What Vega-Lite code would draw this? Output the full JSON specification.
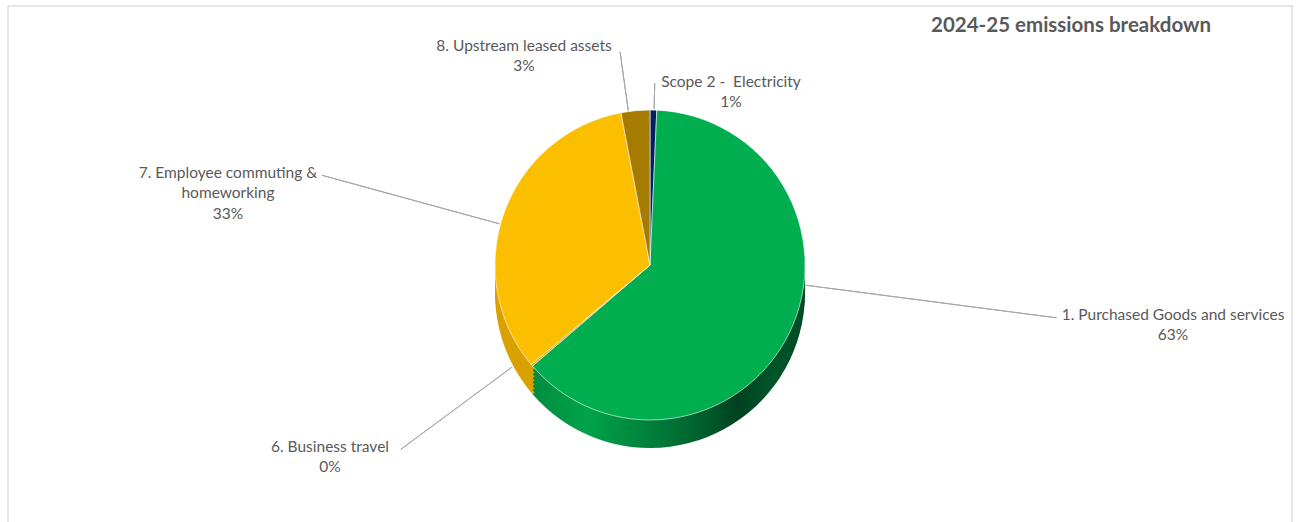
{
  "$schema": "https://vega.github.io/schema/vega-lite/v6.json",
  "width": 1298,
  "height": 522,
  "autosize": {"type": "fit", "contains": "padding"},
  "padding": {"left": 7, "top": 5, "right": 5, "bottom": -3},
  "background": "white",
  "title": {
    "text": "2024-25 emissions breakdown",
    "anchor": "end",
    "frame": "group",
    "dx": -81,
    "offset": -31,
    "font": "Lato",
    "fontSize": 20.5,
    "fontWeight": "bold",
    "color": "#595959"
  },
  "data": {
    "values": [
      {"idx": 1, "cat": "Scope 2", "value": 0.7, "label": "Scope 2 - \u00a0Electricity\n1%"},
      {"idx": 2, "cat": "Purchased", "value": 63.0, "label": "1. Purchased Goods and services\n63%"},
      {"idx": 3, "cat": "Business", "value": 0.2, "label": "6. Business travel\n0%"},
      {"idx": 4, "cat": "Employee", "value": 33.1, "label": "7. Employee commuting &\nhomeworking\n33%"},
      {"idx": 5, "cat": "Upstream", "value": 3.0, "label": "8. Upstream leased assets\n3%"}
    ]
  },
  "encoding": {
    "theta": {"field": "value", "type": "quantitative", "stack": true, "scale": {"domain": [0, 100]}},
    "order": {"field": "idx", "type": "quantitative"}
  },
  "layer": [
    {
      "transform": [{"filter": "datum.idx === 1"}],
      "mark": {"type": "rect", "fill": null, "stroke": "#dedede", "strokeWidth": 1.5},
      "encoding": {}
    },
    {
      "mark": {"type": "arc", "outerRadius": 155, "yOffset": 28},
      "encoding": {"fill": {"condition": [
        {"test": "datum.cat === 'Purchased'", "value": {"gradient": "linear", "x1": 0, "y1": 0, "x2": 1, "y2": 0, "stops": [{"offset": 0, "color": "#008c3e"}, {"offset": 0.2, "color": "#00a34b"}, {"offset": 0.45, "color": "#007d39"}, {"offset": 0.65, "color": "#005a2a"}, {"offset": 0.75, "color": "#00411f"}, {"offset": 0.88, "color": "#00552a"}, {"offset": 1, "color": "#004a25"}]}},
        {"test": "datum.cat === 'Upstream'", "value": "#7d5d00"},
        {"test": "datum.cat === 'Scope 2'", "value": "#001540"}],
        "value": "#d9a100"}}
    },
    {
      "mark": {"type": "arc", "outerRadius": 155, "yOffset": 24},
      "encoding": {"fill": {"condition": [
        {"test": "datum.cat === 'Purchased'", "value": {"gradient": "linear", "x1": 0, "y1": 0, "x2": 1, "y2": 0, "stops": [{"offset": 0, "color": "#008c3e"}, {"offset": 0.2, "color": "#00a34b"}, {"offset": 0.45, "color": "#007d39"}, {"offset": 0.65, "color": "#005a2a"}, {"offset": 0.75, "color": "#00411f"}, {"offset": 0.88, "color": "#00552a"}, {"offset": 1, "color": "#004a25"}]}},
        {"test": "datum.cat === 'Upstream'", "value": "#7d5d00"},
        {"test": "datum.cat === 'Scope 2'", "value": "#001540"}],
        "value": "#d9a100"}}
    },
    {
      "mark": {"type": "arc", "outerRadius": 155, "yOffset": 20},
      "encoding": {"fill": {"condition": [
        {"test": "datum.cat === 'Purchased'", "value": {"gradient": "linear", "x1": 0, "y1": 0, "x2": 1, "y2": 0, "stops": [{"offset": 0, "color": "#008c3e"}, {"offset": 0.2, "color": "#00a34b"}, {"offset": 0.45, "color": "#007d39"}, {"offset": 0.65, "color": "#005a2a"}, {"offset": 0.75, "color": "#00411f"}, {"offset": 0.88, "color": "#00552a"}, {"offset": 1, "color": "#004a25"}]}},
        {"test": "datum.cat === 'Upstream'", "value": "#7d5d00"},
        {"test": "datum.cat === 'Scope 2'", "value": "#001540"}],
        "value": "#d9a100"}}
    },
    {
      "mark": {"type": "arc", "outerRadius": 155, "yOffset": 16},
      "encoding": {"fill": {"condition": [
        {"test": "datum.cat === 'Purchased'", "value": {"gradient": "linear", "x1": 0, "y1": 0, "x2": 1, "y2": 0, "stops": [{"offset": 0, "color": "#008c3e"}, {"offset": 0.2, "color": "#00a34b"}, {"offset": 0.45, "color": "#007d39"}, {"offset": 0.65, "color": "#005a2a"}, {"offset": 0.75, "color": "#00411f"}, {"offset": 0.88, "color": "#00552a"}, {"offset": 1, "color": "#004a25"}]}},
        {"test": "datum.cat === 'Upstream'", "value": "#7d5d00"},
        {"test": "datum.cat === 'Scope 2'", "value": "#001540"}],
        "value": "#d9a100"}}
    },
    {
      "mark": {"type": "arc", "outerRadius": 155, "yOffset": 12},
      "encoding": {"fill": {"condition": [
        {"test": "datum.cat === 'Purchased'", "value": {"gradient": "linear", "x1": 0, "y1": 0, "x2": 1, "y2": 0, "stops": [{"offset": 0, "color": "#008c3e"}, {"offset": 0.2, "color": "#00a34b"}, {"offset": 0.45, "color": "#007d39"}, {"offset": 0.65, "color": "#005a2a"}, {"offset": 0.75, "color": "#00411f"}, {"offset": 0.88, "color": "#00552a"}, {"offset": 1, "color": "#004a25"}]}},
        {"test": "datum.cat === 'Upstream'", "value": "#7d5d00"},
        {"test": "datum.cat === 'Scope 2'", "value": "#001540"}],
        "value": "#d9a100"}}
    },
    {
      "mark": {"type": "arc", "outerRadius": 155, "yOffset": 8},
      "encoding": {"fill": {"condition": [
        {"test": "datum.cat === 'Purchased'", "value": {"gradient": "linear", "x1": 0, "y1": 0, "x2": 1, "y2": 0, "stops": [{"offset": 0, "color": "#008c3e"}, {"offset": 0.2, "color": "#00a34b"}, {"offset": 0.45, "color": "#007d39"}, {"offset": 0.65, "color": "#005a2a"}, {"offset": 0.75, "color": "#00411f"}, {"offset": 0.88, "color": "#00552a"}, {"offset": 1, "color": "#004a25"}]}},
        {"test": "datum.cat === 'Upstream'", "value": "#7d5d00"},
        {"test": "datum.cat === 'Scope 2'", "value": "#001540"}],
        "value": "#d9a100"}}
    },
    {
      "mark": {"type": "arc", "outerRadius": 155, "yOffset": 4},
      "encoding": {"fill": {"condition": [
        {"test": "datum.cat === 'Purchased'", "value": {"gradient": "linear", "x1": 0, "y1": 0, "x2": 1, "y2": 0, "stops": [{"offset": 0, "color": "#008c3e"}, {"offset": 0.2, "color": "#00a34b"}, {"offset": 0.45, "color": "#007d39"}, {"offset": 0.65, "color": "#005a2a"}, {"offset": 0.75, "color": "#00411f"}, {"offset": 0.88, "color": "#00552a"}, {"offset": 1, "color": "#004a25"}]}},
        {"test": "datum.cat === 'Upstream'", "value": "#7d5d00"},
        {"test": "datum.cat === 'Scope 2'", "value": "#001540"}],
        "value": "#d9a100"}}
    },
    {
      "mark": {"type": "arc", "outerRadius": 155, "stroke": "#ffffff", "strokeWidth": 0.7, "strokeOpacity": 0.85},
      "encoding": {
        "color": {
          "field": "cat",
          "type": "nominal",
          "scale": {
            "domain": ["Scope 2", "Purchased", "Business", "Employee", "Upstream"],
            "range": ["#002060", "#00ae50", "#e0a800", "#fcbf00", "#a67c00"]
          },
          "legend": null
        }
      }
    },
    {
      "transform": [{"stack": "value", "groupby": [], "sort": [{"field": "idx", "order": "ascending"}], "as": ["s", "e"]}, {"filter": "datum.cat === 'Scope 2'"}],
      "mark": {"type": "arc", "innerRadius": 156, "outerRadius": 182, "thetaOffset": 0.02618, "theta2Offset": 0.02618, "fill": null, "stroke": "#a6a6a6", "strokeWidth": 1},
      "encoding": {"theta": {"field": "s", "type": "quantitative", "stack": null, "scale": {"domain": [0, 100]}}, "theta2": {"field": "s"}}
    },
    {
      "transform": [{"stack": "value", "groupby": [], "sort": [{"field": "idx", "order": "ascending"}], "as": ["s", "e"]}, {"filter": "datum.cat === 'Purchased'"}],
      "mark": {"type": "arc", "innerRadius": 156, "outerRadius": 410, "thetaOffset": 1.65597, "theta2Offset": 1.65597, "fill": null, "stroke": "#a6a6a6", "strokeWidth": 1},
      "encoding": {"theta": {"field": "s", "type": "quantitative", "stack": null, "scale": {"domain": [0, 100]}}, "theta2": {"field": "s"}}
    },
    {
      "transform": [{"stack": "value", "groupby": [], "sort": [{"field": "idx", "order": "ascending"}], "as": ["s", "e"]}, {"filter": "datum.cat === 'Business'"}],
      "mark": {"type": "arc", "innerRadius": 172, "outerRadius": 310, "thetaOffset": 0.07304, "theta2Offset": 0.07304, "fill": null, "stroke": "#a6a6a6", "strokeWidth": 1},
      "encoding": {"theta": {"field": "s", "type": "quantitative", "stack": null, "scale": {"domain": [0, 100]}}, "theta2": {"field": "s"}}
    },
    {
      "transform": [{"stack": "value", "groupby": [], "sort": [{"field": "idx", "order": "ascending"}], "as": ["s", "e"]}, {"filter": "datum.cat === 'Employee'"}],
      "mark": {"type": "arc", "innerRadius": 156, "outerRadius": 340, "thetaOffset": 0.96446, "theta2Offset": 0.96446, "fill": null, "stroke": "#a6a6a6", "strokeWidth": 1},
      "encoding": {"theta": {"field": "s", "type": "quantitative", "stack": null, "scale": {"domain": [0, 100]}}, "theta2": {"field": "s"}}
    },
    {
      "transform": [{"stack": "value", "groupby": [], "sort": [{"field": "idx", "order": "ascending"}], "as": ["s", "e"]}, {"filter": "datum.cat === 'Upstream'"}],
      "mark": {"type": "arc", "innerRadius": 156, "outerRadius": 215, "thetaOffset": 0.04887, "theta2Offset": 0.04887, "fill": null, "stroke": "#a6a6a6", "strokeWidth": 1},
      "encoding": {"theta": {"field": "s", "type": "quantitative", "stack": null, "scale": {"domain": [0, 100]}}, "theta2": {"field": "s"}}
    },
    {
      "transform": [{"stack": "value", "groupby": [], "sort": [{"field": "idx", "order": "ascending"}], "as": ["s", "e"]}, {"filter": "datum.cat === 'Scope 2'"}],
      "mark": {"type": "text", "radius": 200.35, "thetaOffset": 0.4163},
      "encoding": {"theta": {"field": "s", "type": "quantitative", "stack": null, "scale": {"domain": [0, 100]}}, "text": {"field": "label"}}
    },
    {
      "transform": [{"stack": "value", "groupby": [], "sort": [{"field": "idx", "order": "ascending"}], "as": ["s", "e"]}, {"filter": "datum.cat === 'Purchased'"}],
      "mark": {"type": "text", "radius": 525.36, "thetaOffset": 1.6216},
      "encoding": {"theta": {"field": "s", "type": "quantitative", "stack": null, "scale": {"domain": [0, 100]}}, "text": {"field": "label"}}
    },
    {
      "transform": [{"stack": "value", "groupby": [], "sort": [{"field": "idx", "order": "ascending"}], "as": ["s", "e"]}, {"filter": "datum.cat === 'Business'"}],
      "mark": {"type": "text", "radius": 368.0, "thetaOffset": 0.1936},
      "encoding": {"theta": {"field": "s", "type": "quantitative", "stack": null, "scale": {"domain": [0, 100]}}, "text": {"field": "label"}}
    },
    {
      "transform": [{"stack": "value", "groupby": [], "sort": [{"field": "idx", "order": "ascending"}], "as": ["s", "e"]}, {"filter": "datum.cat === 'Employee'"}],
      "mark": {"type": "text", "radius": 432.0, "thetaOffset": 0.913},
      "encoding": {"theta": {"field": "s", "type": "quantitative", "stack": null, "scale": {"domain": [0, 100]}}, "text": {"field": "label"}}
    },
    {
      "transform": [{"stack": "value", "groupby": [], "sort": [{"field": "idx", "order": "ascending"}], "as": ["s", "e"]}, {"filter": "datum.cat === 'Upstream'"}],
      "mark": {"type": "text", "radius": 252.9, "thetaOffset": -0.333},
      "encoding": {"theta": {"field": "s", "type": "quantitative", "stack": null, "scale": {"domain": [0, 100]}}, "text": {"field": "label"}}
    }
  ],
  "config": {
    "view": {"stroke": null},
    "text": {"font": "Lato", "fontSize": 15.5, "color": "#595959", "lineHeight": 20.5, "align": "center", "baseline": "middle", "lineBreak": "\n"}
  }
}
